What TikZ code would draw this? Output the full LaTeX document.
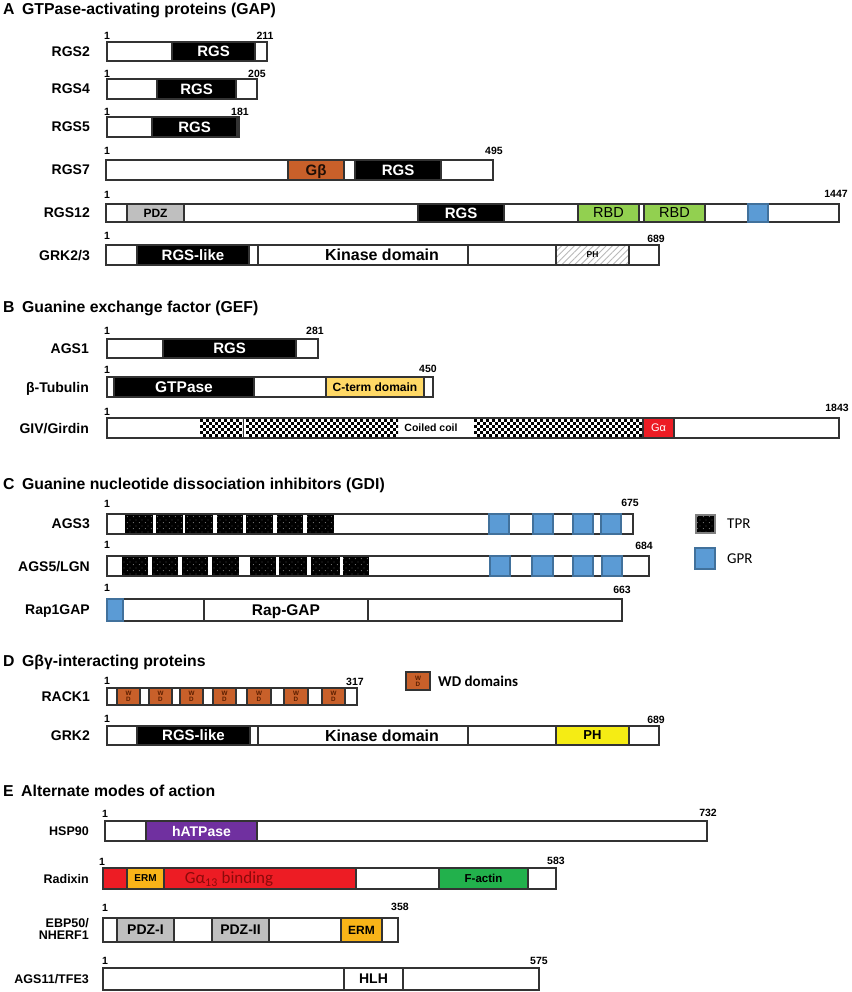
\documentclass[tikz,border=0pt]{standalone}
\usepackage{fontspec}
\setmainfont{Liberation Sans}
\newfontfamily\calib{Carlito}
\usetikzlibrary{patterns,patterns.meta}
\newcommand\fsz[1]{\fontsize{#1}{#1}\selectfont}
\definecolor{outl}{HTML}{333333}
\definecolor{gbeta}{HTML}{C8602A}
\definecolor{rbd}{HTML}{92D050}
\definecolor{gpr}{HTML}{5B9BD5}
\definecolor{gprb}{HTML}{41719C}
\definecolor{pdz}{HTML}{BFBFBF}
\definecolor{cterm}{HTML}{FFD966}
\definecolor{galpha}{HTML}{ED1C24}
\definecolor{phy}{HTML}{F5EC14}
\definecolor{hatp}{HTML}{7030A0}
\definecolor{erm}{HTML}{F9B418}
\definecolor{factin}{HTML}{22B14C}
\definecolor{gtext}{HTML}{8B0A0A}
\definecolor{wdt}{HTML}{5A1E00}
\tikzdeclarepattern{
  name=tprdots, type=uncolored,
  bounding box={(0pt,0pt) and (6pt,6pt)},
  tile size={(6pt,6pt)},
  code={
    \pgfpathcircle{\pgfpoint{1.5pt}{1.5pt}}{0.5pt}
    \pgfpathcircle{\pgfpoint{4.5pt}{4.5pt}}{0.5pt}
    \pgfusepath{fill}
  }
}
% segment node: [style]{name}{x1}{x2}{y1}{y2}{text}
\newcommand\seg[7][]{%
  \pgfmathsetmacro\sgw{#4-#3}\pgfmathsetmacro\sgh{#6-#5}%
  \pgfmathsetmacro\sgx{(#3+#4)/2}\pgfmathsetmacro\sgy{(#5+#6)/2}%
  \node[seg,#1,minimum width=\sgw pt,minimum height=\sgh pt] (#2) at (\sgx,\sgy) {#7};}
% checkerboard: {x1}{x2}{y1}  (6 rows of 3pt squares)
\newcommand\checks[3]{%
  \begin{scope}
  \clip (#1,#3) rectangle (#2,#3+18);
  \pgfmathtruncatemacro\nc{(#2-#1)/3}%
  \foreach \c in {0,...,\nc}{%
    \pgfmathtruncatemacro\rs{mod(\c,2)}%
    \foreach \r in {0,2,4}{\fill ({#1+3*\c},{#3+3*(\r+\rs)}) rectangle ++(3,3);}}
  \end{scope}}
\tikzset{
  seg/.style={draw=outl, line width=1.2pt, fill=white, inner sep=0pt, text depth=0pt, font=\bfseries\fsz{15}},
  blk/.style={fill=black, text=white},
  tpr/.style={draw=none, preaction={fill=black}, pattern=tprdots, pattern color=white!75!black},
  ph/.style={pattern={Lines[angle=45,distance=4.5pt,line width=0.9pt]}, pattern color=gray!55, font=\bfseries\fsz{8.5}},
  gprs/.style={draw=gprb, fill=gpr},
  wd/.style={fill=gbeta, align=center, font=\bfseries\fsz{6.3}, text=wdt},
  lab/.style={anchor=east, font=\bfseries\fsz{14}, inner sep=0pt, text depth=0pt},
  labE/.style={anchor=east, font=\bfseries\fsz{12.5}, inner sep=0pt, align=right},
  num/.style={anchor=base, font=\bfseries\fsz{10.5}, inner sep=0pt},
  ttl/.style={anchor=base west, font=\bfseries\fsz{15.8}, inner sep=0pt},
  dtext/.style={font=\bfseries\fsz{16}, inner sep=0pt, text depth=0pt},
  leg/.style={anchor=west, font=\calib\fsz{15}, inner sep=0pt, text depth=0pt},
}
\begin{document}
\begin{tikzpicture}[x=1pt,y=-1pt]
\useasboundingbox (0,0) rectangle (851,992);

% ---------------- A
\node[ttl] (tA) at (3,15) {A};
\node[ttl] (tAt) at (22,15) {GTPase-activating proteins (GAP)};
% RGS2
\node[lab] (lrgs2) at (90,51.5) {RGS2};
\seg{rgs2}{107}{267}{42}{61}{}
\seg[blk]{rgs2-r}{172}{255}{42}{61}{RGS}
\node[num] (rgs2-a) at (107,40) {1};
\node[num] (rgs2-b) at (265,40) {211};
% RGS4
\node[lab] (lrgs4) at (90,89) {RGS4};
\seg{rgs4}{107}{257}{79}{99}{}
\seg[blk]{rgs4-r}{157}{236}{79}{99}{RGS}
\node[num] (rgs4-a) at (107,78) {1};
\node[num] (rgs4-b) at (257,78) {205};
% RGS5
\node[lab] (lrgs5) at (90,127) {RGS5};
\seg{rgs5}{107}{239}{117}{137}{}
\seg[blk]{rgs5-r}{152}{237}{117}{137}{RGS}
\node[num] (rgs5-a) at (107,116) {1};
\node[num] (rgs5-b) at (240,116) {181};
% RGS7
\node[lab] (lrgs7) at (90,170) {RGS7};
\seg{rgs7}{106}{493}{160}{180}{}
\seg[fill=gbeta,text=black!85!gbeta]{rgs7-g}{288}{344}{160}{180}{Gβ}
\seg[blk]{rgs7-r}{355}{441}{160}{180}{RGS}
\node[num] (rgs7-a) at (107,155) {1};
\node[num] (rgs7-b) at (494,155) {495};
% RGS12
\node[lab] (lrgs12) at (90,213) {RGS12};
\seg{rgs12}{106}{839}{204}{222}{}
\seg[fill=pdz,font=\bfseries\fsz{12}]{rgs12-p}{127}{184}{204}{222}{PDZ}
\seg[blk]{rgs12-r}{418}{504}{204}{222}{RGS}
\seg[fill=rbd,font=\fsz{14.5}]{rgs12-b1}{578}{639}{204}{222}{RBD}
\seg[fill=rbd,font=\fsz{14.5}]{rgs12-b2}{644}{705}{204}{222}{RBD}
\seg[gprs]{rgs12-g}{748}{768}{204}{222}{}
\node[num] (rgs12-a) at (107,199) {1};
\node[num] (rgs12-b) at (836,198) {1447};
% GRK2/3
\node[lab] (lgrk23) at (90,255) {GRK2/3};
\seg{grk23}{106}{659}{245}{265}{}
\seg[blk]{grk23-r}{137}{249}{245}{265}{RGS-like}
\seg{grk23-k}{258}{468}{245}{265}{}
\node[dtext] (grk23-kt) at (382,255) {Kinase domain};
\seg[ph]{grk23-p}{556}{629}{245}{265}{PH}
\node[num] (grk23-a) at (107,240) {1};
\node[num] (grk23-b) at (656,242) {689};

% ---------------- B
\node[ttl] (tB) at (3,312) {B};
\node[ttl] (tBt) at (22,312) {Guanine exchange factor (GEF)};
% AGS1
\node[lab] (lags1) at (89,348.5) {AGS1};
\seg{ags1}{107}{318}{339}{358}{}
\seg[blk]{ags1-r}{163}{296}{339}{358}{RGS}
\node[num] (ags1-a) at (107,334) {1};
\node[num] (ags1-b) at (315,334) {281};
% beta-tubulin
\node[lab] (ltub) at (89,387) {β-Tubulin};
\seg{tub}{107}{433}{377}{397}{}
\seg[blk,font=\bfseries\fsz{15.5}]{tub-g}{114}{254}{377}{397}{GTPase}
\seg[fill=cterm,font=\bfseries\fsz{12}]{tub-c}{326}{424}{377}{397}{C-term domain}
\node[num] (tub-a) at (107,373) {1};
\node[num] (tub-b) at (428,372) {450};
% GIV
\node[lab] (lgiv) at (89,428) {GIV/Girdin};
\seg{giv}{107}{839}{418}{438}{}
\checks{200}{242}{419}
\checks{246}{398}{419}
\checks{474}{643}{419}
\draw[outl, line width=1.2pt] (243.5,418) -- (243.5,438);
\node[dtext,font=\bfseries\fsz{10.5}] (giv-cc) at (431,428) {Coiled coil};
\seg[fill=galpha,text=white,font=\fsz{11}]{giv-ga}{643}{674}{418}{438}{Gα}
\node[num] (giv-a) at (107,415) {1};
\node[num] (giv-b) at (837,411) {1843};

% ---------------- C
\node[ttl] (tC) at (3,489) {C};
\node[ttl] (tCt) at (22,489) {Guanine nucleotide dissociation inhibitors (GDI)};
% AGS3
\node[lab] (lags3) at (90,524) {AGS3};
\seg{ags3}{107}{633}{514}{534}{}
\foreach \a/\b [count=\i] in {125/153,156/183,185/213,217/243,246/273,277/303,307/334}
  {\seg[tpr]{ags3-t\i}{\a}{\b}{515}{533}{}}
\foreach \a/\b [count=\i] in {489/509,533/553,573/593,601/621}
  {\seg[gprs]{ags3-g\i}{\a}{\b}{514}{534}{}}
\node[num] (ags3-a) at (107,507) {1};
\node[num] (ags3-b) at (630,506) {675};
% AGS5/LGN
\node[lab] (lags5) at (90,566) {AGS5/LGN};
\seg{ags5}{107}{649}{556}{576}{}
\foreach \a/\b [count=\i] in {122/148,152/178,182/208,212/239,250/276,279/307,311/340,343/369}
  {\seg[tpr]{ags5-t\i}{\a}{\b}{557}{575}{}}
\foreach \a/\b [count=\i] in {490/510,532/553,573/593,602/622}
  {\seg[gprs]{ags5-g\i}{\a}{\b}{556}{576}{}}
\node[num] (ags5-a) at (107,548) {1};
\node[num] (ags5-b) at (644,549) {684};
% Rap1GAP
\node[lab] (lrap) at (90,610) {Rap1GAP};
\seg{rap}{107}{622}{599}{621}{}
\seg[gprs]{rap-g}{107}{123}{599}{621}{}
\seg[font=\bfseries\fsz{15.5}]{rap-r}{204}{368}{599}{621}{Rap-GAP}
\node[num] (rap-a) at (107,591) {1};
\node[num] (rap-b) at (622,593) {663};
% legend
\seg[tpr,draw=gray]{legtpr}{696}{715}{515}{533}{}
\node[leg] (legtprt) at (727,524) {TPR};
\seg[gprs]{leggpr}{695}{715}{548}{569}{}
\node[leg] (leggprt) at (727,559) {GPR};

% ---------------- D
\node[ttl] (tD) at (3,666) {D};
\node[ttl] (tDt) at (22,666) {Gβγ-interacting proteins};
% RACK1
\node[lab] (lrack) at (90,696.5) {RACK1};
\seg{rack}{107}{357}{688}{705}{}
\foreach \a/\b [count=\i] in {117/140,149/172,180/203,213/236,247/271,284/308,322/345}
  {\seg[wd]{rack-w\i}{\a}{\b}{688}{705}{W\\D}}
\node[num] (rack-a) at (107,684) {1};
\node[num] (rack-b) at (355,685) {317};
\seg[wd]{legwd}{406}{430}{672}{690}{W\\D}
\node[leg,font=\calib\bfseries\fsz{15}] (legwdt) at (438,681) {WD domains};
% GRK2
\node[lab] (lgrk2) at (90,735.5) {GRK2};
\seg{grk2}{107}{659}{726}{745}{}
\seg[blk]{grk2-r}{137}{250}{726}{745}{RGS-like}
\seg{grk2-k}{258}{468}{726}{745}{}
\node[dtext] (grk2-kt) at (382,735.5) {Kinase domain};
\seg[fill=phy,font=\bfseries\fsz{13}]{grk2-p}{556}{629}{726}{745}{PH}
\node[num] (grk2-a) at (107,722) {1};
\node[num] (grk2-b) at (656,723) {689};

% ---------------- E
\node[ttl] (tE) at (3,796) {E};
\node[ttl] (tEt) at (21,796) {Alternate modes of action};
% HSP90
\node[labE] (lhsp) at (89,831) {HSP90};
\seg{hsp}{105}{707}{821}{841}{}
\seg[fill=hatp,text=white,font=\bfseries\fsz{14}]{hsp-h}{146}{257}{821}{841}{hATPase}
\node[num] (hsp-a) at (105,817) {1};
\node[num] (hsp-b) at (708,816) {732};
% Radixin
\node[labE] (lrad) at (89,879) {Radixin};
\seg{rad}{103}{556}{868}{889}{}
\seg[fill=galpha]{rad-red}{103}{356}{868}{889}{}
\seg[fill=erm,font=\bfseries\fsz{10}]{rad-e}{127}{164}{868}{889}{ERM}
\node[font=\calib\fsz{17}, text=gtext, inner sep=0pt, text depth=0pt] (rad-gt) at (229,878) {Gα\textsubscript{13} binding};
\seg[fill=factin,font=\bfseries\fsz{11.5}]{rad-f}{439}{528}{868}{889}{F-actin}
\node[num] (rad-a) at (102,865) {1};
\node[num] (rad-b) at (556,864) {583};
% EBP50
\node[labE] (lebp) at (89,929) {EBP50/\\NHERF1};
\seg{ebp}{103}{398}{918}{942}{}
\seg[fill=pdz,font=\bfseries\fsz{14}]{ebp-p1}{117}{174}{918}{942}{PDZ-I}
\seg[fill=pdz,font=\bfseries\fsz{14}]{ebp-p2}{212}{269}{918}{942}{PDZ-II}
\seg[fill=erm,font=\bfseries\fsz{12}]{ebp-e}{341}{382}{918}{942}{ERM}
\node[num] (ebp-a) at (105,911) {1};
\node[num] (ebp-b) at (400,910) {358};
% AGS11
\node[labE] (lags11) at (89,979) {AGS11/TFE3};
\seg{ags11}{103}{539}{968}{990}{}
\seg[font=\bfseries\fsz{14}]{ags11-h}{344}{403}{968}{990}{HLH}
\node[num] (ags11-a) at (105,964) {1};
\node[num] (ags11-b) at (539,964) {575};
\end{tikzpicture}
\end{document}
